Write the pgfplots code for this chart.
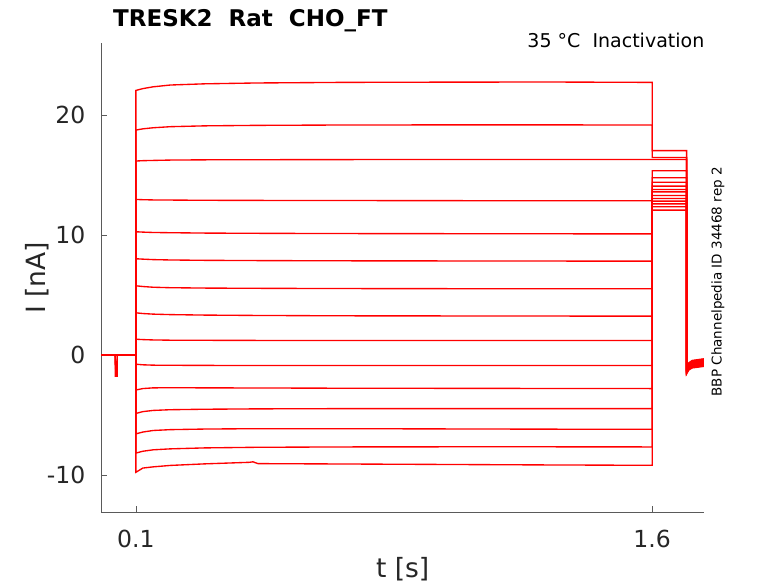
\documentclass[border=0pt]{standalone}
\usepackage{fontspec}
\setmainfont{DejaVu Sans}
\usepackage{pgfplots}
\pgfplotsset{compat=1.18}
\definecolor{axgray}{HTML}{5A5A5A}
\definecolor{txtgray}{HTML}{262626}
\begin{document}
\begin{tikzpicture}
\useasboundingbox (-101.5bp,-70.5bp) rectangle (676.5bp,512.5bp);
\begin{axis}[
  at={(0,0)}, anchor=south west,
  scale only axis, width=602.3bp, height=469.5bp,
  xmin=0, xmax=1.75, ymin=-13.1, ymax=26,
  axis x line*=bottom, axis y line*=left,
  axis line style={draw=axgray, line width=0.8bp, -},
  xtick={0.1,1.6}, xticklabels={0.1,1.6},
  ytick={-10,0,10,20}, yticklabels={-10,0,10,20},
  tick align=inside, major tick length=6bp,
  tick style={draw=axgray, line width=0.8bp},
  /pgf/number format/assume math mode=true,
  ticklabel style={font=\fontsize{23.5bp}{28bp}\selectfont, text=txtgray, inner sep=0pt},
  xticklabel style={anchor=base, yshift=-34.5bp},
  yticklabel style={anchor=east, xshift=-16bp},
  tr/.style={draw=red, line width=1.35bp},
]
\addplot[tr] coordinates {(0,0) (0.0395,0) (0.0400,-1.75) (0.0455,-1.75) (0.046,0) (0.1,0)
 (0.1,22.05) (0.12,22.2) (0.15,22.35) (0.2,22.5) (0.3,22.6) (0.45,22.67) (0.7,22.72) (1.0,22.74) (1.3,22.75) (1.6,22.72)
 (1.6,17.04) (1.7,17.04) (1.7,-1.00) (1.706,-0.65) (1.716,-0.44) (1.75,-0.30)};
\addplot[tr] coordinates {(0,0) (0.0395,0) (0.0420,-1.75) (0.0435,-1.75) (0.046,0) (0.1,0)
 (0.1,18.75) (0.12,18.85) (0.15,18.94) (0.2,19.03) (0.3,19.1) (0.45,19.14) (0.7,19.17) (1.0,19.18) (1.3,19.18) (1.6,19.17)
 (1.6,16.47) (1.7,16.47) (1.7,-1.04) (1.706,-0.69) (1.716,-0.48) (1.75,-0.345)};
\addplot[tr] coordinates {(0,0) (0.1,0)
 (0.1,16.17) (0.12,16.2) (0.15,16.22) (0.2,16.25) (0.3,16.27) (0.45,16.28) (0.7,16.29) (1.0,16.3) (1.3,16.3) (1.6,16.3)
 (1.6,16.3) (1.7,16.3) (1.7,-1.08) (1.706,-0.73) (1.716,-0.53) (1.75,-0.39)};
\addplot[tr] coordinates {(0,0) (0.1,0)
 (0.1,12.97) (0.12,12.95) (0.15,12.93) (0.2,12.92) (0.3,12.9) (0.45,12.89) (0.7,12.88) (1.0,12.87) (1.3,12.86) (1.6,12.86)
 (1.6,12.08) (1.7,12.08) (1.7,-1.12) (1.706,-0.78) (1.716,-0.57) (1.75,-0.435)};
\addplot[tr] coordinates {(0,0) (0.1,0)
 (0.1,10.28) (0.12,10.25) (0.15,10.22) (0.2,10.2) (0.3,10.17) (0.45,10.15) (0.7,10.13) (1.0,10.12) (1.3,10.11) (1.6,10.1)
 (1.6,12.36) (1.7,12.36) (1.7,-1.16) (1.706,-0.82) (1.716,-0.62) (1.75,-0.48)};
\addplot[tr] coordinates {(0,0) (0.1,0)
 (0.1,8.03) (0.12,8.0) (0.15,7.96) (0.2,7.93) (0.3,7.9) (0.45,7.88) (0.7,7.86) (1.0,7.85) (1.3,7.84) (1.6,7.83)
 (1.6,12.6) (1.7,12.6) (1.7,-1.20) (1.706,-0.86) (1.716,-0.66) (1.75,-0.525)};
\addplot[tr] coordinates {(0,0) (0.1,0)
 (0.1,5.78) (0.12,5.72) (0.15,5.66) (0.2,5.62) (0.3,5.59) (0.45,5.57) (0.7,5.55) (1.0,5.54) (1.3,5.53) (1.6,5.53)
 (1.6,12.83) (1.7,12.83) (1.7,-1.24) (1.706,-0.90) (1.716,-0.70) (1.75,-0.57)};
\addplot[tr] coordinates {(0,0) (0.1,0)
 (0.1,3.53) (0.12,3.47) (0.15,3.42) (0.2,3.38) (0.3,3.34) (0.45,3.31) (0.7,3.28) (1.0,3.27) (1.3,3.26) (1.6,3.25)
 (1.6,13.05) (1.7,13.05) (1.7,-1.28) (1.706,-0.95) (1.716,-0.75) (1.75,-0.615)};
\addplot[tr] coordinates {(0,0) (0.1,0)
 (0.1,1.33) (0.12,1.3) (0.15,1.27) (0.2,1.25) (0.3,1.24) (0.45,1.23) (0.7,1.22) (1.0,1.22) (1.3,1.22) (1.6,1.22)
 (1.6,13.3) (1.7,13.3) (1.7,-1.32) (1.706,-0.99) (1.716,-0.79) (1.75,-0.66)};
\addplot[tr] coordinates {(0,0) (0.1,0)
 (0.1,-0.75) (0.12,-0.8) (0.15,-0.83) (0.2,-0.84) (0.3,-0.85) (0.45,-0.86) (0.7,-0.86) (1.0,-0.86) (1.3,-0.86) (1.6,-0.86)
 (1.6,13.6) (1.7,13.6) (1.7,-1.36) (1.706,-1.03) (1.716,-0.84) (1.75,-0.705)};
\addplot[tr] coordinates {(0,0) (0.1,0)
 (0.1,-2.9) (0.12,-2.78) (0.15,-2.72) (0.2,-2.71) (0.3,-2.72) (0.45,-2.73) (0.7,-2.75) (1.0,-2.76) (1.3,-2.77) (1.6,-2.78)
 (1.6,13.8) (1.7,13.8) (1.7,-1.40) (1.706,-1.07) (1.716,-0.88) (1.75,-0.75)};
\addplot[tr] coordinates {(0,0) (0.1,0)
 (0.1,-4.85) (0.12,-4.7) (0.15,-4.6) (0.2,-4.54) (0.3,-4.5) (0.45,-4.47) (0.7,-4.45) (1.0,-4.45) (1.3,-4.45) (1.6,-4.45)
 (1.6,14.08) (1.7,14.08) (1.7,-1.44) (1.706,-1.12) (1.716,-0.92) (1.75,-0.795)};
\addplot[tr] coordinates {(0,0) (0.1,0)
 (0.1,-6.55) (0.12,-6.4) (0.15,-6.27) (0.2,-6.2) (0.3,-6.15) (0.45,-6.12) (0.7,-6.12) (1.0,-6.14) (1.3,-6.16) (1.6,-6.17)
 (1.6,14.4) (1.7,14.4) (1.7,-1.48) (1.706,-1.16) (1.716,-0.97) (1.75,-0.84)};
\addplot[tr] coordinates {(0,0) (0.1,0)
 (0.1,-8.15) (0.12,-8.0) (0.15,-7.88) (0.2,-7.8) (0.3,-7.72) (0.45,-7.67) (0.7,-7.64) (1.0,-7.63) (1.3,-7.63) (1.6,-7.64)
 (1.6,14.78) (1.7,14.78) (1.7,-1.52) (1.706,-1.20) (1.716,-1.01) (1.75,-0.885)};
\addplot[tr] coordinates {(0,0) (0.1,0)
 (0.1,-9.75) (0.12,-9.4) (0.15,-9.3) (0.2,-9.18) (0.3,-9.05) (0.43,-8.92) (0.44,-8.88) (0.455,-9.03) (0.7,-9.06) (1.0,-9.1) (1.3,-9.14) (1.6,-9.17)
 (1.6,15.36) (1.7,15.36) (1.7,-1.56) (1.706,-1.24) (1.716,-1.06) (1.75,-0.93)};
\end{axis}
\node[anchor=base, inner sep=0pt, font=\fontsize{26.5bp}{30bp}\selectfont, text=txtgray] at (301.15bp,-64.5bp) {t [s]};
\node[anchor=base, rotate=90, inner sep=0pt, font=\fontsize{26.5bp}{30bp}\selectfont, text=txtgray] at (-56bp,234.75bp) {I [nA]};
\node[anchor=base west, inner sep=0pt, font=\fontsize{23bp}{28bp}\selectfont\bfseries] at (11.5bp,485.8bp) {TRESK2\ \ Rat\ \ CHO\_FT};
\node[anchor=base east, inner sep=0pt, font=\fontsize{19bp}{23bp}\selectfont] at (603bp,465.2bp) {35 °C\ \ Inactivation};
\node[anchor=base west, rotate=90, inner sep=0pt, font=\fontsize{13.5bp}{16bp}\selectfont] at (620.2bp,116bp) {BBP Channelpedia ID 34468 rep 2};
\end{tikzpicture}
\end{document}
